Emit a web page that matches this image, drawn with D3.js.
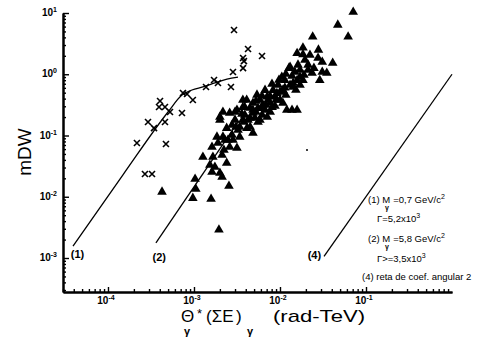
<!DOCTYPE html>
<html>
<head>
<meta charset="utf-8">
<script src="https://cdn.jsdelivr.net/npm/d3@7"></script>
<style>
  body { margin: 0; background: #fff; }
  svg { display: block; font-family: "Liberation Sans", Arial, sans-serif; }
</style>
</head>
<body>
<div id="chart"></div>
<script>
var svgWidth = 498;
var svgHeight = 340;

// crosses (x) : [theta*E, mDW]
var crosses = [
  [2.92e-3, 5.27], [4.25e-3, 2.58], [6.18e-3, 1.99], [3.72e-3, 1.84], [3.81e-3, 1.64],
  [3.72e-3, 1.26], [2.84e-3, 1.09], [1.71e-3, 0.805], [1.90e-3, 0.72], [2.69e-3, 0.62],
  [1.38e-3, 0.62], [7.45e-4, 0.494], [8.3e-4, 0.476], [9.7e-4, 0.38], [4.03e-4, 0.366],
  [4.6e-4, 0.292], [3.92e-4, 0.292], [5.26e-4, 0.242], [7.25e-4, 0.233], [4.6e-4, 0.166],
  [2.92e-4, 0.166], [3.43e-4, 0.132], [2.17e-4, 0.0755], [4.72e-4, 0.0726],
  [2.69e-4, 0.0235], [3.25e-4, 0.0235]
];

// triangles
var triangles = [
  [7.1e-2, 10.4], [4.7e-2, 6.4], [6.2e-2, 4.1], [2.4e-2, 4.1], [2.8e-2, 2.5], [1.85e-2, 2.7],
  [1.58e-2, 2.2], [1.85e-2, 2.1], [4.1e-2, 1.53], [3.1e-2, 1.58], [3.1e-2, 1.09], [3.5e-2, 1.05],
  [2.36e-2, 1.05], [2.9e-2, 0.80], [1.95e-2, 1.71], [1.27e-2, 1.26], [1.05e-2, 0.90], [1.71e-2, 0.90],
  [1.85e-2, 0.80], [1.42e-2, 0.62], [1.14e-2, 0.60], [8.3e-3, 0.55], [7.1e-3, 0.43], [5.85e-3, 0.38],
  [4.85e-3, 0.34], [4.1e-3, 0.38], [3.9e-3, 0.29], [4.85e-3, 0.26], [7.1e-3, 0.20], [5.85e-3, 0.18],
  [4.5e-3, 0.138], [4.85e-3, 0.11], [1.2e-2, 0.26], [1.38e-2, 0.26], [1.58e-2, 0.26], [8.1e-3, 0.29],
  [9.2e-3, 0.49], [1.31e-2, 1.31], [1.08e-2, 0.55], [1.42e-2, 0.72], [1.58e-2, 0.80], [7.7e-3, 0.34],
  [8.75e-3, 0.43], [6.2e-3, 0.216], [7.7e-3, 0.242], [4.25e-3, 0.18], [3.0e-3, 0.18], [2.0e-3, 0.18],
  [2.6e-3, 0.233], [2.17e-3, 0.242], [3.7e-3, 0.29], [3.4e-3, 0.138], [2.4e-3, 0.132], [1.85e-3, 0.095],
  [3.4e-3, 0.095], [3.7e-3, 0.38], [4.85e-3, 0.233], [3.0e-3, 0.242], [2.0e-3, 0.20], [3.16e-3, 0.26],
  [2.17e-3, 0.095], [1.62e-3, 0.065], [1.9e-3, 0.0755], [2.6e-3, 0.065], [3.16e-3, 0.0625], [2.12e-3, 0.048],
  [1.27e-3, 0.0446], [1.66e-3, 0.0446], [1.75e-3, 0.0306], [2.0e-3, 0.0244], [2.4e-3, 0.0356], [1.53e-3, 0.033],
  [1.62e-3, 0.0254], [1.03e-3, 0.0195], [1.05e-3, 0.0134], [9.7e-4, 0.0095], [1.58e-3, 0.0092], [2.55e-3, 0.015],
  [1.95e-3, 0.0029], [4.25e-4, 0.012], [2.12e-3, 0.021], [3.7e-3, 0.18], [5.4e-3, 0.46], [6.3e-3, 0.315],
  [9.5e-3, 0.67], [1.14e-2, 0.80], [6.7e-3, 0.55], [5.1e-3, 0.193], [3.9e-3, 0.216], [2.77e-3, 0.148],
  [5.55e-3, 0.28], [1.0e-2, 0.38], [1.71e-2, 1.17], [2.12e-2, 1.42], [1.49e-2, 1.09], [7.25e-3, 0.38],
  [2.29e-3, 0.0845], [2.77e-3, 0.102], [3.25e-3, 0.123], [3.81e-3, 0.166], [4.48e-3, 0.193], [5.26e-3, 0.242],
  [6.18e-3, 0.281], [6.87e-3, 0.315], [7.66e-3, 0.441], [8.98e-3, 0.38], [1.0e-2, 0.513], [1.17e-2, 0.458],
  [1.31e-2, 0.667], [1.53e-2, 0.553], [1.71e-2, 0.667], [1.90e-2, 0.97], [2.12e-2, 1.17], [2.48e-2, 1.26],
  [2.77e-2, 1.84], [2.23e-2, 2.06], [1.17e-2, 1.01], [9.73e-3, 0.805], [8.07e-3, 0.693], [6.18e-3, 0.441],
  [5.26e-3, 0.366], [4.48e-3, 0.281], [3.61e-3, 0.224], [3.08e-3, 0.138], [2.48e-3, 0.0845], [2.23e-3, 0.058],
  [2.84e-3, 0.0845], [4.13e-3, 0.132], [5.55e-3, 0.166], [6.7e-3, 0.261], [1.38e-2, 0.936], [1.62e-2, 1.42],
  [1.08e-2, 0.34], [8.75e-3, 0.303]
];

var strayDot = [[2.06e-2, 0.058]];

// fitted curves
var curve1 = [[3.92e-5, 1.57e-3], [1.5e-4, 0.023], [4.99e-4, 0.242], [7.25e-4, 0.458], [9.47e-4, 0.553],
              [1.27e-3, 0.62], [1.75e-3, 0.72], [2.42e-3, 0.836], [3.25e-3, 0.90]];
var line2 = [[3.61e-4, 1.76e-3], [3.25e-3, 0.166]];
var line4 = [[3.25e-2, 1.06e-3], [1.0, 1.0]];

var curveLabels = [["(1)", 3.7e-5, 1.0e-3], ["(2)", 3.3e-4, 0.9e-3], ["(4)", 2.1e-2, 0.95e-3]];

var yMajor = [1e-3, 1e-2, 1e-1, 1, 10];
var yExp = ["-3", "-2", "-1", "0", "1"];
var xMajor = [1e-4, 1e-3, 1e-2, 1e-1];
var xExp = ["-4", "-3", "-2", "-1"];

var svg = d3.select("#chart")
  .append("svg")
  .attr("width", svgWidth)
  .attr("height", svgHeight);

var x = d3.scaleLog()
  .domain([Math.pow(10, -4.523), 1])
  .range([63, 452]);

var y = d3.scaleLog()
  .domain([Math.pow(10, -3.555), 10])
  .range([292, 13]);

// minor tick values
var yMinor = [], xMinor = [];
for (var k = -4; k <= 0; k++) {
  for (var m = 2; m <= 9; m++) {
    var v = m * Math.pow(10, k);
    if (v >= y.domain()[0] && v <= y.domain()[1]) yMinor.push(v);
  }
}
for (var k = -5; k <= -1; k++) {
  for (var m = 2; m <= 9; m++) {
    var v = m * Math.pow(10, k);
    if (v >= x.domain()[0] && v <= x.domain()[1]) xMinor.push(v);
  }
}

// axes
svg.append("g").attr("transform", "translate(63,0)")
  .call(d3.axisLeft(y).tickValues(yMinor).tickSize(-3).tickSizeOuter(0).tickFormat(""));
svg.append("g").attr("transform", "translate(63,0)")
  .call(d3.axisLeft(y).tickValues(yMajor).tickSize(-6).tickSizeOuter(0).tickFormat(""));
svg.append("g").attr("transform", "translate(0,292)")
  .call(d3.axisBottom(x).tickValues(xMinor).tickSize(-3).tickSizeOuter(0).tickFormat(""));
svg.append("g").attr("transform", "translate(0,292)")
  .call(d3.axisBottom(x).tickValues(xMajor).tickSize(-5).tickSizeOuter(0).tickFormat(""));

svg.selectAll(".domain").attr("stroke", "#000").attr("stroke-width", 2);
svg.selectAll(".tick line").attr("stroke", "#000").attr("stroke-width", 1.4);

// tick labels with superscripts
var yLab = svg.append("g").attr("font-size", 10).attr("font-weight", "bold").attr("text-anchor", "end");
yMajor.forEach(function(v, i) {
  var t = yLab.append("text").attr("x", 57).attr("y", y(v) + 3);
  t.append("tspan").text("10");
  t.append("tspan").attr("font-size", 7).attr("dy", -4).text(yExp[i]);
});

var xLab = svg.append("g").attr("font-size", 10).attr("font-weight", "bold").attr("text-anchor", "middle");
xMajor.forEach(function(v, i) {
  var t = xLab.append("text").attr("x", x(v) - 2).attr("y", 304);
  t.append("tspan").text("10");
  t.append("tspan").attr("font-size", 7).attr("dy", -4).text(xExp[i]);
});

// axis titles
svg.append("text")
  .attr("transform", "translate(31,152) rotate(-90)")
  .attr("text-anchor", "middle")
  .attr("font-size", 19)
  .text("mDW");

var xt = svg.append("g").attr("font-size", 17);
xt.append("text").attr("x", 181).attr("y", 322).text("Θ");
xt.append("text").attr("x", 184).attr("y", 335).attr("font-size", 11).attr("font-weight", "bold").text("γ");
xt.append("text").attr("x", 197).attr("y", 318).attr("font-size", 13).text("*");
xt.append("text").attr("x", 206).attr("y", 322).text("(ΣE");
xt.append("text").attr("x", 236).attr("y", 322).text(")");
xt.append("text").attr("x", 247).attr("y", 335).attr("font-size", 11).attr("font-weight", "bold").text("γ");
xt.append("text").attr("x", 273).attr("y", 322)
  .attr("textLength", 92).attr("lengthAdjust", "spacingAndGlyphs").text("(rad-TeV)");

// curves
var lineGen = d3.line().x(d => x(d[0])).y(d => y(d[1]));
svg.append("path").datum(curve1)
  .attr("d", lineGen.curve(d3.curveMonotoneX))
  .attr("fill", "none").attr("stroke", "#000").attr("stroke-width", 1.3);
[line2, line4].forEach(function(l) {
  svg.append("path").datum(l)
    .attr("d", d3.line().x(d => x(d[0])).y(d => y(d[1])))
    .attr("fill", "none").attr("stroke", "#000").attr("stroke-width", 1.3);
});

svg.append("g").attr("font-size", 11).attr("font-weight", "bold")
  .selectAll("text").data(curveLabels).enter().append("text")
  .attr("x", d => x(d[1]))
  .attr("y", d => y(d[2]))
  .text(d => d[0]);

// triangles
svg.append("g").selectAll("path").data(triangles).enter().append("path")
  .attr("d", d3.symbol().type(d3.symbolTriangle).size(40))
  .attr("transform", d => `translate(${x(d[0])},${y(d[1])})`)
  .attr("fill", "#000");

// crosses
svg.append("g").selectAll("path").data(crosses).enter().append("path")
  .attr("d", "M-3,-3L3,3M-3,3L3,-3")
  .attr("transform", d => `translate(${x(d[0])},${y(d[1])})`)
  .attr("stroke", "#000").attr("stroke-width", 1.6).attr("fill", "none");

svg.append("g").selectAll("circle").data(strayDot).enter().append("circle")
  .attr("cx", d => x(d[0])).attr("cy", d => y(d[1])).attr("r", 1).attr("fill", "#000");

// legend text
var lg = svg.append("g").attr("font-size", 9.5);
function massLine(yy, label, rest) {
  var t = lg.append("text").attr("x", 368).attr("y", yy);
  t.append("tspan").text(label + " M");
  t.append("tspan").text(rest).attr("dx", 3);
  t.append("tspan").attr("font-size", 7).attr("dy", -4).text("2");
  lg.append("text").attr("x", 385).attr("y", yy + 7).attr("font-size", 7).attr("font-weight", "bold").text("γ");
}
function gammaLine(yy, txt) {
  var t = lg.append("text").attr("x", 377).attr("y", yy);
  t.append("tspan").text(txt);
  t.append("tspan").attr("font-size", 7).attr("dy", -4).text("3");
}
massLine(203, "(1)", "=0,7 GeV/c");
gammaLine(222, "Γ=5,2x10");
massLine(242, "(2)", "=5,8 GeV/c");
gammaLine(262, "Γ>=3,5x10");
lg.append("text").attr("x", 362).attr("y", 280).text("(4) reta de coef. angular 2");
</script>
</body>
</html>
